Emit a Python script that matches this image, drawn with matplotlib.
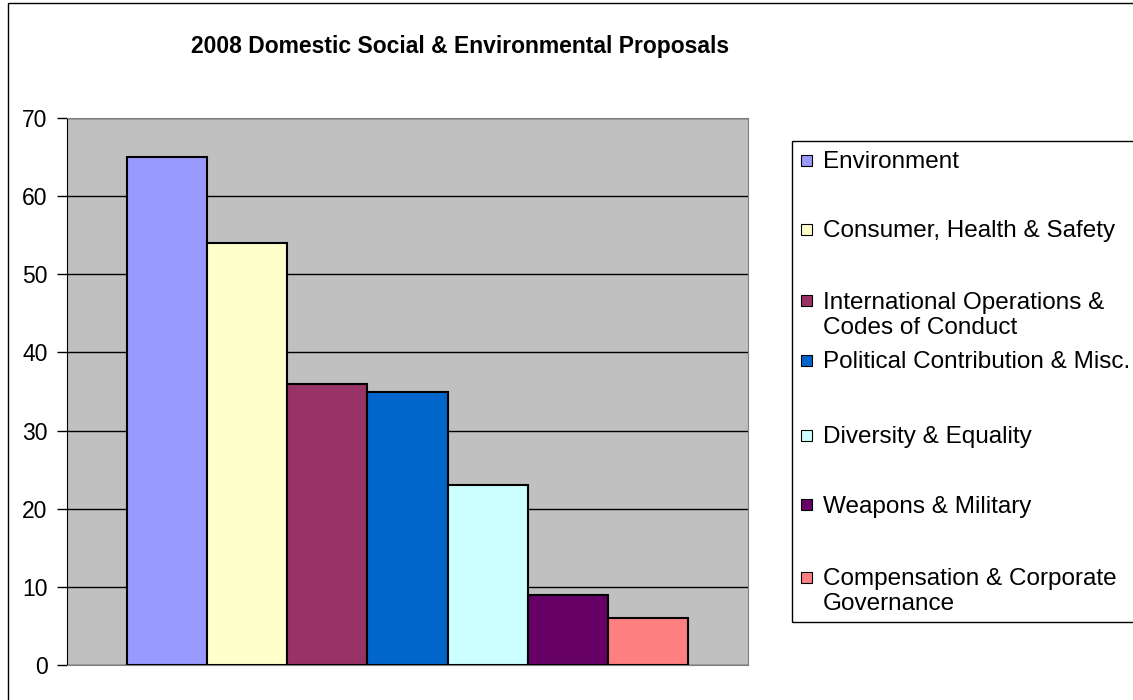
import matplotlib
matplotlib.use('Agg')
import matplotlib.pyplot as plt
from matplotlib.patches import Rectangle

categories = ['Environment', 'Consumer, Health & Safety',
              'International Operations &\nCodes of Conduct',
              'Political Contribution & Misc.', 'Diversity & Equality',
              'Weapons & Military', 'Compensation & Corporate\nGovernance']
values = [65, 54, 36, 35, 23, 9, 6]
colors = ['#9999FF', '#FFFFCC', '#993366', '#0066CC', '#CCFFFF', '#660066', '#FF8080']
yticks = [0, 10, 20, 30, 40, 50, 60, 70]

plt.rcParams['font.family'] = ['Liberation Sans', 'DejaVu Sans']

W, H = 1133, 700
fig = plt.figure(figsize=(W / 100, H / 100), dpi=100)

def fx(px):
    return px / W

def fy(py):
    return 1 - py / H

# plot area
ax = fig.add_axes([fx(67), fy(665), fx(748) - fx(67), fy(118) - fy(665)])
ax.set_facecolor('#C0C0C0')
x = list(range(len(values)))
ax.bar(x, values, width=1.0, color=colors, edgecolor='black', linewidth=1.5, zorder=3)
ax.set_xlim(-1.25, len(values) - 1 + 1.25)
ax.set_ylim(0, 70)
ax.set_yticks(yticks)
ax.tick_params(axis='y', labelsize=16.5, length=7, width=1, color='black', pad=7)
ax.set_xticks([])
ax.grid(axis='y', color='black', linewidth=1, zorder=1)
ax.set_axisbelow(True)
for s in ['top', 'right', 'bottom']:
    ax.spines[s].set_color('#808080')
ax.spines['left'].set_color('black')

fig.text(fx(460), fy(46), '2008 Domestic Social & Environmental Proposals',
         ha='center', va='center', fontsize=16.5, fontweight='bold')

# outer chart border
fig.patches.append(Rectangle((fx(8), -0.1), 1.2, fy(3) + 0.1, transform=fig.transFigure,
                             fill=False, edgecolor='black', linewidth=1, zorder=0))

# legend box
fig.patches.append(Rectangle((fx(792), fy(622)), 1.0, fy(141) - fy(622),
                             transform=fig.transFigure, fill=False,
                             edgecolor='black', linewidth=1, zorder=5))
lfs = 17.5
entry_y = [160, 229, 300, 360, 435, 504, 577]
for lab, col, py in zip(categories, colors, entry_y):
    fig.patches.append(Rectangle((fx(801), fy(py + 6)), fx(11), fy(0) - fy(11),
                                 transform=fig.transFigure, facecolor=col,
                                 edgecolor='black', linewidth=0.8, zorder=6))
    for i, line in enumerate(lab.split('\n')):
        fig.text(fx(823), fy(py + 8.5 + 25 * i), line, ha='left', va='baseline',
                 fontsize=lfs)

fig.savefig('out.png', dpi=100)
